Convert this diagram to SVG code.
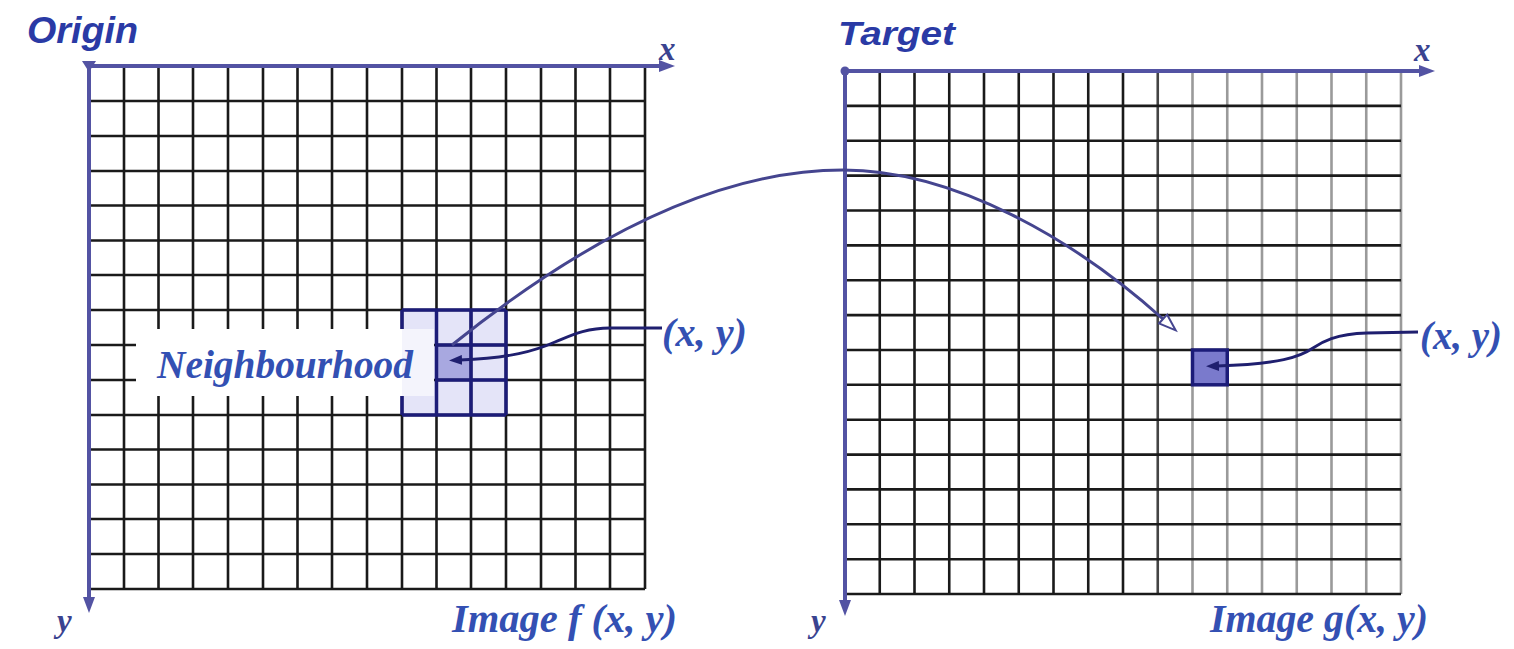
<svg xmlns="http://www.w3.org/2000/svg" width="1514" height="649" viewBox="0 0 1514 649">
<defs>
<style>
.grid{stroke:#1a1a1a;stroke-width:2.6;fill:none}
.gridm{stroke:#444444;stroke-width:2.6;fill:none}
.gridg{stroke:#9a9a9a;stroke-width:2.6;fill:none}
.axis{stroke:#5353a3;stroke-width:4;fill:none}
.nav{stroke:#1c1c78;stroke-width:3.5;fill:none}
.curve{stroke:#45458f;stroke-width:3;fill:none}
.ptr{stroke:#1f1f6f;stroke-width:2.8;fill:none}
.title{font-family:"Liberation Sans",Arial,sans-serif;font-weight:bold;font-style:italic;fill:#2a3aa5}
.lbl{font-family:"Liberation Serif","Times New Roman",serif;font-weight:bold;font-style:italic;font-size:40px;fill:#3350b3}
.ax{font-family:"Liberation Serif","Times New Roman",serif;font-weight:bold;font-style:italic;font-size:33px;fill:#3a4390}
</style>
<marker id="axArrow" markerWidth="16" markerHeight="12" refX="4" refY="6" orient="auto" markerUnits="userSpaceOnUse"><path d="M0,0 L16,6 L0,12 z" fill="#5353a3"/></marker>
<marker id="openArrow" markerWidth="22" markerHeight="18" refX="1" refY="8" orient="auto" markerUnits="userSpaceOnUse"><path d="M1,2 L18,8 L1,14 z" fill="#ffffff" stroke="#45458f" stroke-width="2"/></marker>
<marker id="ptrArrow" markerWidth="14" markerHeight="10" refX="2" refY="5" orient="auto" markerUnits="userSpaceOnUse"><path d="M0,0 L13,5 L0,10 z" fill="#1f1f6f"/></marker>
</defs>
<rect width="1514" height="649" fill="#ffffff"/>

<g id="origin-image">
<rect x="402" y="310" width="104" height="105" fill="#e4e4f8"/>
<rect x="436.5" y="345" width="34.5" height="35" fill="#a8a8e0"/>
<path class="grid" d="M124,66V589M158.5,66V589M193,66V589M228,66V589M263,66V589M297.5,66V589M332,66V589M367,66V589M402,66V589M436.5,66V589M471,66V589M506,66V589M541,66V589M575.5,66V589M610,66V589M645,66V589"/>
<path class="grid" d="M89,101H645M89,136H645M89,171H645M89,205.5H645M89,240.5H645M89,275H645M89,310H645M89,345H645M89,380H645M89,415H645M89,449.5H645M89,484.5H645M89,519H645M89,554H645M89,589H645"/>
<rect x="136" y="329" width="298" height="67" fill="#ffffff"/>
<rect x="402" y="329" width="32" height="67" fill="#f4f4fc"/>
<path class="nav" d="M436.5,310V415M471,310V415M506,310V415M402,310H506M436.5,345H506M436.5,380H506M402,415H506"/>
<path class="nav" stroke-width="2.5" d="M402,310V329M402,396V415"/>
<text class="lbl" x="157" y="378" textLength="256" lengthAdjust="spacingAndGlyphs">Neighbourhood</text>
<text class="lbl" x="452" y="632" textLength="225" lengthAdjust="spacingAndGlyphs">Image f (x, y)</text>
</g>

<g id="target-image">
<path class="grid" d="M879.75,71V594M914.5,71V594M949.25,71V594M984,71V594M1018.75,71V594M1053.5,71V594M1088.25,71V594M1123,71V594"/>
<path class="gridm" d="M1157.75,71V594"/>
<path class="gridg" d="M1192.5,71V594M1227.25,71V594M1262,71V594M1296.75,71V594M1331.5,71V594M1366.25,71V594M1401,71V594"/>
<path class="grid" d="M845,105.9H1401M845,140.7H1401M845,175.6H1401M845,210.5H1401M845,245.4H1401M845,280.2H1401M845,315.1H1401M845,350H1401M845,384.8H1401M845,419.7H1401M845,454.6H1401M845,489.4H1401M845,524.3H1401M845,559.2H1401M845,594H1401"/>
<rect x="1192.5" y="350" width="34.75" height="34.8" fill="#7a7acc" stroke="#1c1c78" stroke-width="3.5"/>
<text class="lbl" x="1210" y="632" textLength="218" lengthAdjust="spacingAndGlyphs">Image g(x, y)</text>
</g>

<g id="axes">
<path class="axis" d="M89,66H663" marker-end="url(#axArrow)"/>
<path class="axis" d="M89,64V601" marker-end="url(#axArrow)"/>
<path d="M82,61 L96,61 L89,72 z" fill="#5353a3"/>
<path class="axis" d="M845,71H1423" marker-end="url(#axArrow)"/>
<path class="axis" d="M845,71V604" marker-end="url(#axArrow)"/>
<circle cx="845" cy="71" r="4.5" fill="#5353a3"/>
<text class="title" x="27" y="43" font-size="36" textLength="111" lengthAdjust="spacingAndGlyphs">Origin</text>
<text class="title" x="838" y="45" font-size="34" textLength="117" lengthAdjust="spacingAndGlyphs">Target</text>
<text class="ax" x="659" y="60">x</text>
<text class="ax" x="1414" y="61">x</text>
<text class="ax" x="57" y="632">y</text>
<text class="ax" x="811" y="632">y</text>
</g>

<g id="connectors">
<path class="curve" d="M452,345 C560,258 700,170 843,170 C955,170 1075,240 1163,319" marker-end="url(#openArrow)"/>
<path class="ptr" d="M662,328 L610,328 C585,328 570,336 555,342 C535,351 510,358 460,360" marker-end="url(#ptrArrow)"/>
<path class="ptr" d="M1418,332 L1367,333 C1335,334 1322,342 1313,348 C1300,357 1280,364 1217,366" marker-end="url(#ptrArrow)"/>
</g>

<g id="labels">
<text class="lbl" x="662" y="346" textLength="85" lengthAdjust="spacingAndGlyphs">(x, y)</text>
<text class="lbl" x="1420" y="349" textLength="82" lengthAdjust="spacingAndGlyphs">(x, y)</text>
</g>
</svg>
